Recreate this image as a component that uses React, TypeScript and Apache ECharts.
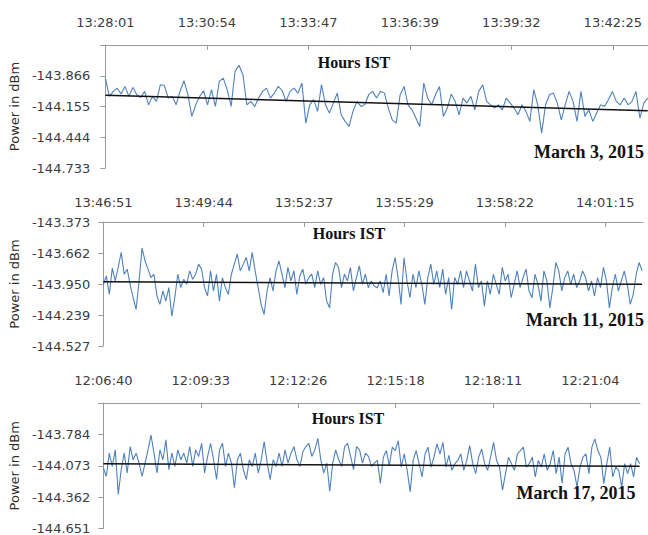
import { useEffect, useRef } from 'react';
import * as echarts from 'echarts';

// Seconds between consecutive time labels on the top axes
const LABEL_STEP_SEC = 173;

// ---- March 3, 2015 ----
const times1 = ['13:28:01', '13:30:54', '13:33:47', '13:36:39', '13:39:32', '13:42:25'];
const yTicks1 = [-144.733, -144.444, -144.155, -143.866, -143.577];
const sampleSec1 = 6.7;
const axisEndSec1 = 925;
const power1 = [
  -143.888, -144.060, -144.013, -143.982, -144.038, -143.966, -144.060, -143.975, -144.044, -144.070,
  -144.013, -144.139, -144.060, -144.107, -143.950, -143.957, -144.076, -144.060, -144.139, -144.013,
  -143.913, -144.044, -144.248, -144.139, -144.060, -144.007, -144.139, -143.997, -144.154, -143.919,
  -143.888, -143.997, -144.154, -143.825, -143.768, -143.856, -144.139, -144.107, -144.154, -144.076,
  -144.013, -143.982, -144.076, -144.029, -143.966, -144.007, -144.107, -144.013, -143.982, -144.029,
  -143.935, -144.311, -144.139, -144.091, -144.201, -143.950, -144.139, -144.217, -144.123, -144.029,
  -144.233, -144.295, -144.342, -144.201, -144.107, -144.154, -144.139, -144.044, -144.013, -144.076,
  -144.013,
  -144.029, -144.170, -144.280, -144.311, -144.044, -143.966, -144.139, -144.186, -144.264, -144.342,
  -143.935, -144.076, -144.139, -144.044, -143.966, -144.248, -144.170, -144.038, -144.107, -144.233,
  -144.076, -144.123, -144.060, -144.186, -144.013, -143.950, -144.107, -144.139, -144.170, -144.139,
  -144.186, -144.076, -144.123, -144.170, -144.233, -144.139, -144.201, -144.295, -143.997, -144.139,
  -144.405, -144.139, -144.044, -144.029, -144.123, -144.280, -144.139, -144.013, -144.107, -144.295,
  -144.013, -144.248, -144.186, -144.295, -144.217, -144.139, -144.154, -144.091, -144.013, -144.107,
  -144.139, -144.076, -144.139, -144.107, -144.013, -144.264, -144.123, -144.076,
];
const trend1 = [-144.05, -144.195];

// ---- March 11, 2015 ----
const times2 = ['13:46:51', '13:49:44', '13:52:37', '13:55:29', '13:58:22', '14:01:15'];
const yTicks2 = [-144.527, -144.239, -143.95, -143.662, -143.373];
const sampleSec2 = 5.13;
const axisEndSec2 = 930;
const power2 = [
  -143.953, -143.875, -144.047, -143.803, -143.922, -143.790, -143.656, -143.859, -143.812, -143.953,
  -144.078, -144.187, -143.922, -143.615, -143.734, -143.812, -143.890, -143.859, -144.062, -144.140,
  -144.015, -144.109, -143.984, -144.250, -144.078, -143.859, -143.984, -143.906, -143.953, -143.828,
  -143.906, -143.859, -143.765, -143.812, -143.984, -144.062, -143.828, -144.015, -143.859, -144.109,
  -143.890, -143.984, -144.047, -143.859, -143.765, -143.671, -143.828, -143.765, -143.703, -143.828,
  -143.656, -143.828, -143.984, -144.140, -144.234, -144.015, -143.890, -144.015, -143.828, -143.734,
  -143.859, -143.984, -143.796, -143.922, -143.828, -144.047, -143.875, -143.812, -143.953, -143.890,
  -143.859, -143.984, -143.828, -143.953, -143.890, -144.109, -144.172, -143.859, -143.750, -143.796,
  -143.984, -143.859, -143.922, -143.796, -144.015, -143.890, -143.781, -143.953, -143.859, -143.984,
  -143.922, -143.968,
  -143.984, -143.922, -144.031, -143.859, -144.062, -143.828, -143.703, -143.890, -144.140, -143.703,
  -143.922, -144.078, -143.859, -143.984, -143.828, -143.953, -144.140, -143.890, -143.765, -143.953,
  -143.828, -143.984, -143.812, -144.047, -143.890, -144.187, -143.890, -143.953, -143.828, -143.984,
  -143.828, -143.922, -144.015, -143.765, -143.984, -143.922, -144.156, -143.922, -144.047, -143.859,
  -143.953, -144.047, -143.796, -143.922, -143.859, -144.078, -143.953, -143.828, -143.984, -143.890,
  -143.812, -144.015, -144.078, -143.859, -143.953, -144.109, -143.828, -143.922, -144.172, -143.984,
  -143.750, -143.828, -144.015, -143.890, -143.828, -143.953, -143.859, -143.984, -143.922, -143.828,
  -143.890, -144.015, -143.922, -144.062, -143.890, -143.984, -143.796, -143.922, -144.172, -143.984,
  -143.859, -144.015, -143.922, -143.828, -143.953, -144.140, -144.047, -143.859, -143.750, -143.828,
];
const trend2 = [-143.928, -143.953];

// ---- March 17, 2015 ----
const times3 = ['12:06:40', '12:09:33', '12:12:26', '12:15:18', '12:18:11', '12:21:04'];
const yTicks3 = [-144.651, -144.362, -144.073, -143.784, -143.495];
const sampleSec3 = 5.29;
const axisEndSec3 = 953;
const power3 = [
  -144.094, -144.170, -143.957, -144.079, -143.927, -144.337, -144.109, -143.957, -144.140, -143.896,
  -144.018, -143.957, -144.048, -144.170, -144.048, -143.927, -143.790, -143.957, -144.140, -143.927,
  -144.018, -143.835, -144.109, -143.957, -144.079, -143.927, -144.018, -143.957, -144.048, -143.896,
  -144.079, -143.927, -143.987, -143.866, -144.140, -143.987, -143.866, -144.018, -144.200, -143.927,
  -143.866, -144.079, -143.957, -144.048, -144.276, -144.018, -143.957, -144.109, -144.200, -144.018,
  -144.079, -143.957, -144.140, -144.018, -143.851, -144.048, -144.200, -144.018, -144.079, -143.957,
  -144.079, -143.927, -144.048, -143.957, -143.896, -144.018, -144.079, -143.942, -143.896, -143.866,
  -143.987, -143.927, -143.820, -144.018, -144.140, -144.048, -144.307, -144.048, -143.927, -144.018,
  -144.079, -143.896, -143.866, -143.987, -144.109, -143.896, -143.927, -144.048, -143.957, -143.987,
  -144.079, -144.048,
  -144.024, -144.237, -143.994, -143.933, -144.070, -143.902, -143.933, -143.841, -144.085, -143.963,
  -144.115, -144.313, -144.024, -143.933, -144.054, -144.176, -143.963, -143.902, -144.085, -143.994,
  -143.872, -143.963, -143.857, -144.085, -143.978, -144.115, -144.054, -144.024, -143.963, -144.115,
  -144.024, -143.887, -144.054, -144.146, -143.994, -143.917, -144.054, -144.115, -143.994, -143.857,
  -144.024, -144.085, -144.298, -144.146, -143.994, -144.054, -144.115, -143.963, -143.933, -143.902,
  -144.085, -144.054, -143.994, -144.176, -144.024, -144.085, -143.963, -144.115, -144.054, -143.933,
  -144.146, -143.994, -144.237, -143.963, -143.902, -144.054, -144.115, -144.267, -144.085, -143.994,
  -143.963, -144.146, -143.902, -143.826, -143.933, -143.994, -144.237, -144.054, -143.902, -144.176,
  -144.085, -144.115, -144.267, -144.054, -144.146, -144.054, -144.176, -143.994, -144.054,
];
const trend3 = [-144.055, -144.078];

const dates = ['March 3, 2015', 'March 11, 2015', 'March 17, 2015'];

const LINE_BLUE = '#4f81bd';
const AXIS_GREY = '#9a9a9a';
const LABEL_GREY = '#3c3c3c';

export default function App() {
  const ref = useRef<HTMLDivElement>(null);

  useEffect(() => {
    if (!ref.current) return;
    const chart = echarts.init(ref.current, undefined, { renderer: 'svg' });

    const panels = [
      { times: times1, ticks: yTicks1, dt: sampleSec1, end: axisEndSec1, power: power1, trend: trend1,
        grid: { left: 97, top: 45, width: 551, height: 123 }, xMargin: 16, yMargin: 15, showTop: false,
        hours: [354, 62], date: [589, 152] },
      { times: times2, ticks: yTicks2, dt: sampleSec2, end: axisEndSec2, power: power2, trend: trend2,
        grid: { left: 100, top: 222, width: 543, height: 124 }, xMargin: 13, yMargin: 13, showTop: true,
        hours: [349, 233], date: [585, 320] },
      { times: times3, ticks: yTicks3, dt: sampleSec3, end: axisEndSec3, power: power3, trend: trend3,
        grid: { left: 100, top: 403, width: 540, height: 128 }, xMargin: 16, yMargin: 13, showTop: false,
        hours: [348, 418], date: [576, 493] },
    ];

    const xFmt = (labels: string[]) => (v: number) => {
      const i = Math.round(v / LABEL_STEP_SEC);
      return Math.abs(v - i * LABEL_STEP_SEC) < 0.5 ? labels[i] ?? '' : '';
    };
    // Picks the nearest listed tick; the topmost one is left blank when showTop is off
    const yFmt = (ticks: number[], showTop: boolean) => (v: number) => {
      let bestIdx = -1;
      let d = Infinity;
      ticks.forEach((t, k) => {
        const dd = Math.abs(t - v);
        if (dd < d) {
          d = dd;
          bestIdx = k;
        }
      });
      if (d >= 0.01) return '';
      if (!showTop && bestIdx === ticks.length - 1) return '';
      return ticks[bestIdx].toFixed(3);
    };

    const axisFont = { fontFamily: 'DejaVu Sans', fontSize: 13, color: LABEL_GREY };

    const option: echarts.EChartsOption = {
      animation: false,
      backgroundColor: '#ffffff',
      grid: panels.map((p) => ({ ...p.grid, containLabel: false })),
      xAxis: panels.map((p, i) => ({
        type: 'value',
        gridIndex: i,
        position: 'top',
        min: 0,
        max: p.end,
        interval: LABEL_STEP_SEC,
        axisLine: { show: true, lineStyle: { color: AXIS_GREY, width: 1 } },
        axisTick: { show: true, inside: true, length: 5, lineStyle: { color: AXIS_GREY } },
        axisLabel: { ...axisFont, margin: p.xMargin, formatter: xFmt(p.times), showMaxLabel: false },
        splitLine: { show: false },
      })),
      yAxis: panels.map((p, i) => {
        const min = p.ticks[0];
        const max = p.ticks[p.ticks.length - 1];
        return {
          type: 'value',
          gridIndex: i,
          min,
          max,
          interval: (max - min) / (p.ticks.length - 1),
          name: 'Power in dBm',
          nameLocation: 'middle',
          nameGap: 69,
          nameTextStyle: { fontFamily: 'DejaVu Sans', fontSize: 13, color: '#2e2e2e' },
          axisLine: { show: true, lineStyle: { color: AXIS_GREY, width: 1 } },
          axisTick: { show: true, inside: false, length: 5, lineStyle: { color: AXIS_GREY } },
          axisLabel: { ...axisFont, margin: p.yMargin, formatter: yFmt(p.ticks, p.showTop) },
          splitLine: { show: false },
        };
      }),
      series: panels.flatMap((p, i) => {
        const lastT = (p.power.length - 1) * p.dt;
        return [
          {
            type: 'line',
            xAxisIndex: i,
            yAxisIndex: i,
            data: p.power.map((v, k) => [k * p.dt, v]),
            showSymbol: false,
            lineStyle: { color: LINE_BLUE, width: 1.1 },
            z: 2,
          },
          {
            type: 'line',
            xAxisIndex: i,
            yAxisIndex: i,
            data: [
              [0, p.trend[0]],
              [lastT, p.trend[1]],
            ],
            showSymbol: false,
            lineStyle: { color: '#111111', width: 1.5 },
            z: 3,
          },
        ];
      }),
      graphic: panels.flatMap((p, i) => [
        {
          type: 'text',
          x: p.hours[0],
          y: p.hours[1],
          z: 10,
          style: {
            text: 'Hours IST',
            font: 'bold 16px "Liberation Serif"',
            fill: '#111111',
            align: 'center',
            verticalAlign: 'middle',
          },
        },
        {
          type: 'text',
          x: p.date[0],
          y: p.date[1],
          z: 10,
          style: {
            text: dates[i],
            font: 'bold 18px "Liberation Serif"',
            fill: '#111111',
            align: 'center',
            verticalAlign: 'middle',
          },
        },
      ]),
    };

    chart.setOption(option);
    return () => chart.dispose();
  }, []);

  return (
    <div
      ref={ref}
      style={{ position: 'absolute', left: 0, top: 0, width: 648, height: 535, background: '#fff' }}
    />
  );
}
